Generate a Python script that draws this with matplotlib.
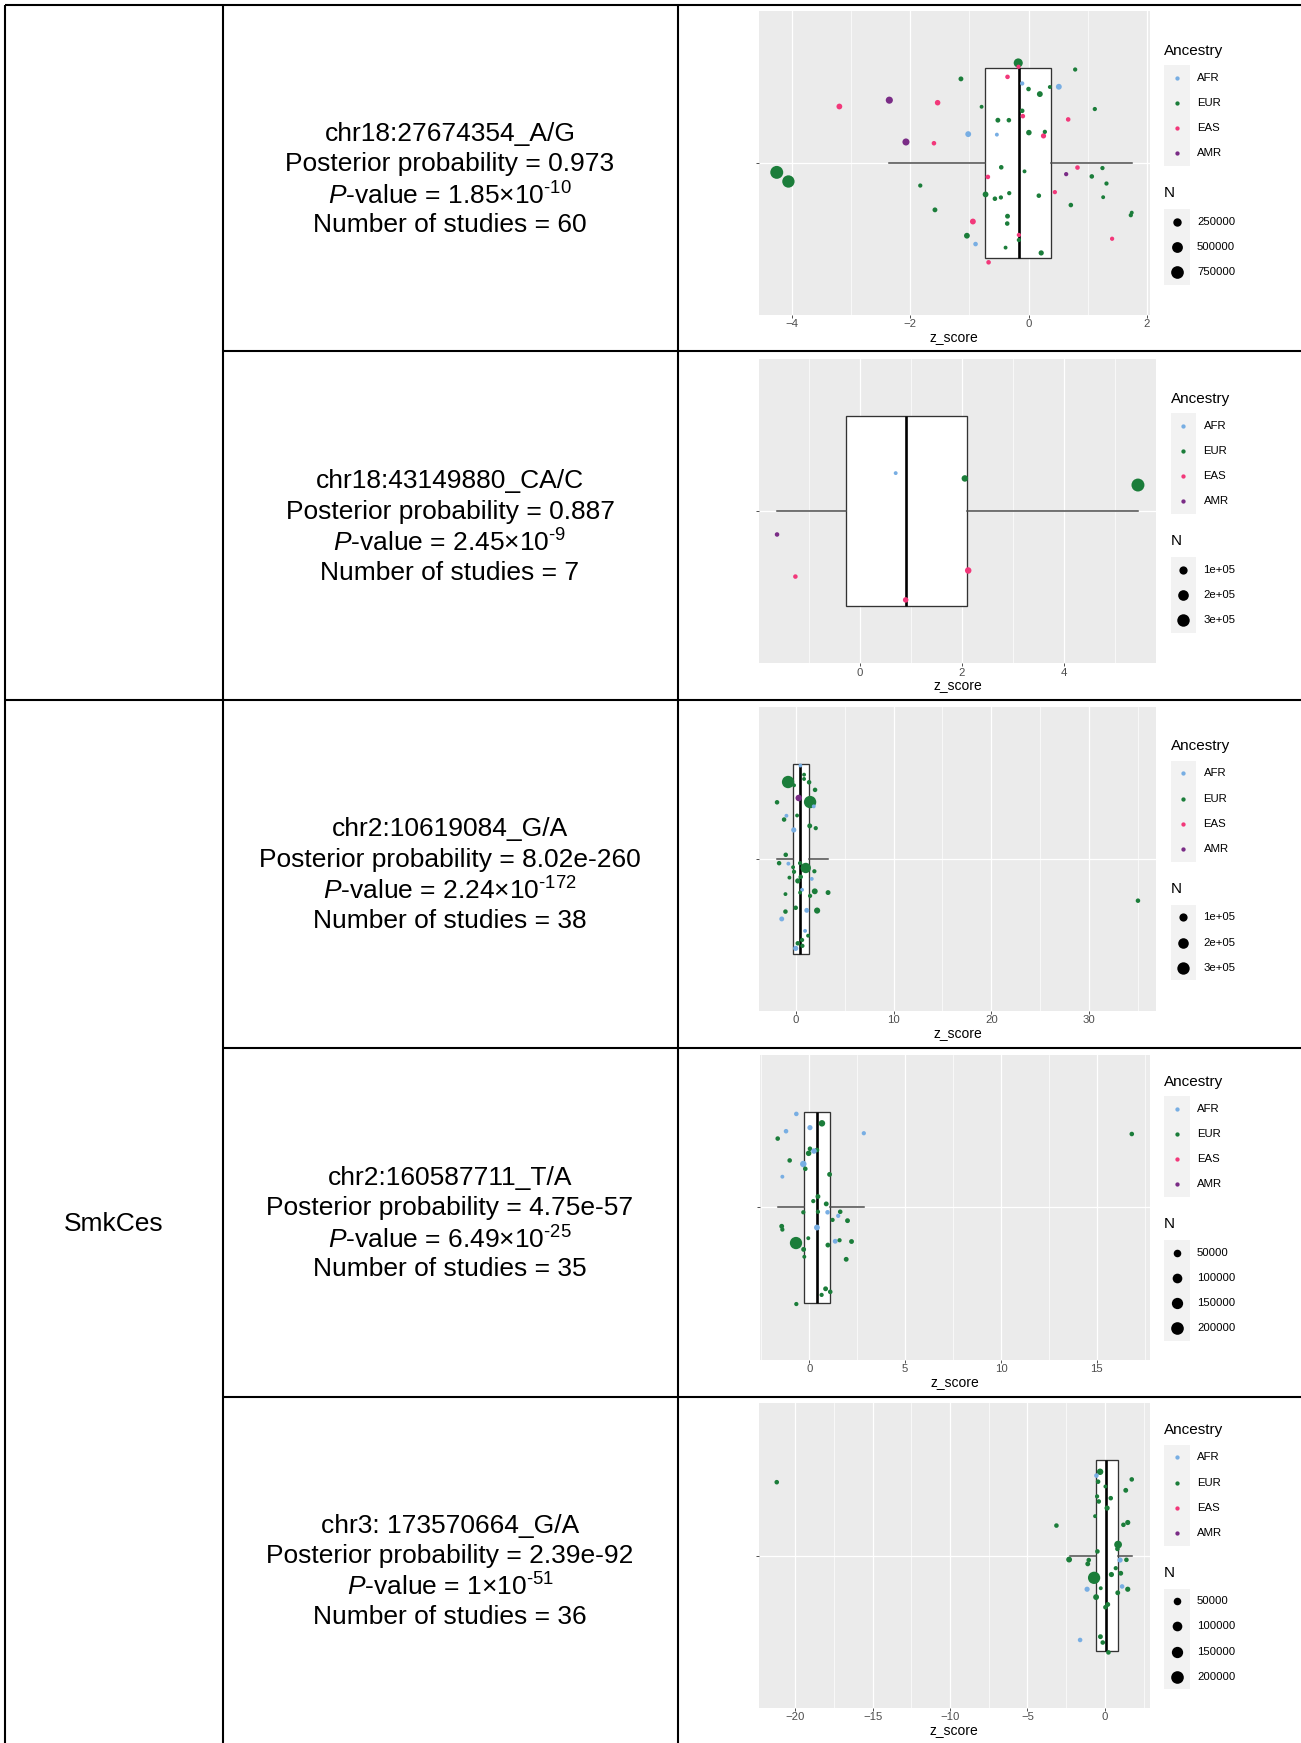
import numpy as np
import matplotlib
matplotlib.use('Agg')
import matplotlib.pyplot as plt
from matplotlib.patches import Rectangle

# ---------------- DATA ----------------
trait_label = 'SmkCes'
variants = ['chr18:27674354_A/G', 'chr18:43149880_CA/C', 'chr2:10619084_G/A',
            'chr2:160587711_T/A', 'chr3: 173570664_G/A']
post_probs = ['0.973', '0.887', '8.02e-260', '4.75e-57', '2.39e-92']
pval_mant = ['1.85', '2.45', '2.24', '6.49', '1']
pval_exp = ['-10', '-9', '-172', '-25', '-51']
n_studies = [60, 7, 38, 35, 36]

ancestry_levels = ['AFR', 'EUR', 'EAS', 'AMR']
ancestry_colors = {'AFR': '#78AEE3', 'EUR': '#1B7D3A', 'EAS': '#F2387A', 'AMR': '#7A2C86'}

# panel 1
p1_z = [-4.254, -4.057, -3.196, -2.352, -2.071, -1.829, -1.598, -1.536, -1.581, -1.142,
        -1.019, -0.940, -1.041, -0.895, -0.793, -0.726, -0.687, -0.675, -0.568, -0.535,
        -0.518, -0.461, -0.467, -0.355, -0.332, -0.326, -0.355, -0.360, -0.388, -0.174,
        -0.169, -0.107, -0.107, -0.096, -0.068, -0.163, -0.163, 0.000, 0.006, 0.174,
        0.191, 0.214, 0.253, 0.276, 0.360, 0.445, 0.512, 0.636, 0.670, 0.715,
        0.788, 0.827, 1.069, 1.120, 1.249, 1.261, 1.317, 1.412, 1.728, 1.744]
p1_y = [0.963, 0.927, 1.223, 1.248, 1.083, 0.911, 1.078, 1.238, 0.815, 1.332,
        1.114, 0.769, 0.713, 0.680, 1.222, 0.876, 0.945, 0.608, 0.859, 1.112,
        1.169, 0.983, 0.864, 1.340, 1.169, 0.881, 0.790, 0.761, 0.666, 1.395,
        1.380, 1.314, 1.206, 1.185, 0.967, 0.716, 0.696, 1.292, 1.120, 0.871,
        1.272, 0.645, 1.107, 1.123, 1.300, 0.885, 1.301, 0.956, 1.172, 0.834,
        1.369, 0.982, 0.947, 1.213, 0.980, 0.865, 0.919, 0.701, 0.794, 0.804]
p1_anc = ['EUR', 'EUR', 'EAS', 'AMR', 'AMR', 'EUR', 'EAS', 'EAS', 'EUR', 'EUR',
          'AFR', 'EAS', 'EUR', 'AFR', 'EUR', 'EUR', 'EAS', 'EAS', 'EUR', 'AFR',
          'EUR', 'EUR', 'EUR', 'EAS', 'EUR', 'EUR', 'EUR', 'EUR', 'EUR', 'EUR',
          'EAS', 'AFR', 'EUR', 'EAS', 'EUR', 'EAS', 'EUR', 'EUR', 'EUR', 'EUR',
          'EUR', 'EUR', 'EAS', 'EUR', 'EUR', 'EAS', 'AFR', 'AMR', 'EAS', 'EUR',
          'EUR', 'EAS', 'EUR', 'EUR', 'EUR', 'EUR', 'EUR', 'EAS', 'EUR', 'EUR']
p1_n = [790000, 700000, 80000, 155000, 150000, 27000, 35000, 68000, 44000, 44000,
        83000, 83000, 80000, 35000, 20000, 80000, 35000, 35000, 35000, 20000,
        44000, 35000, 27000, 35000, 35000, 27000, 44000, 35000, 20000, 310000,
        27000, 27000, 35000, 35000, 20000, 27000, 27000, 35000, 68000, 35000,
        83000, 56000, 56000, 27000, 20000, 27000, 83000, 27000, 35000, 35000,
        27000, 35000, 35000, 27000, 27000, 20000, 27000, 27000, 27000, 20000]

# panel 2
p2_z = [0.702, 2.059, 5.456, -1.626, -1.266, 2.125, 0.898]
p2_y = [1.150, 1.129, 1.103, 0.908, 0.742, 0.766, 0.650]
p2_anc = ['AFR', 'EUR', 'EUR', 'AMR', 'EAS', 'EAS', 'EAS']
p2_n = [9000, 49000, 332000, 15000, 15000, 49000, 29000]

# panel 3
p3_z = [0.46, 0.836, 0.836, -0.80, -0.19, 1.35, 1.96, 0.29, 1.45, 1.825,
        -1.93, -0.97, -1.21, 0.12, -0.22, 1.415, 2.03, -1.04, -1.72, -0.77,
        0.427, -0.29, 1.006, 1.89, -0.19, 0.495, -0.665, 0.19, 1.62, 0.63,
        0.427, 1.93, 3.29, -1.07, 1.45, -0.02, 1.11, 2.17, -1.07, -1.45,
        0.94, 1.245, 0.63, 0.19, 0.665, -0.02, 35.0]
p3_y = [1.368, 1.332, 1.315, 1.303, 1.290, 1.302, 1.272, 1.240, 1.224, 1.207,
        1.223, 1.170, 1.155, 1.171, 1.114, 1.130, 1.121, 1.016, 0.983, 0.981,
        0.983, 0.967, 0.964, 0.951, 0.949, 0.929, 0.926, 0.913, 0.921, 0.878,
        0.867, 0.872, 0.867, 0.861, 0.854, 0.807, 0.797, 0.796, 0.792, 0.763,
        0.716, 0.697, 0.680, 0.667, 0.657, 0.647, 0.835]
p3_anc = ['AFR', 'EUR', 'EUR', 'EUR', 'EUR', 'EUR', 'EUR', 'AMR', 'EUR', 'AFR',
          'EUR', 'AFR', 'EUR', 'EUR', 'AFR', 'EUR', 'EUR', 'EUR', 'EUR', 'AFR',
          'EUR', 'EUR', 'EUR', 'EUR', 'EUR', 'EUR', 'EUR', 'EUR', 'AFR', 'AFR',
          'EUR', 'EUR', 'EUR', 'EUR', 'EUR', 'EUR', 'AFR', 'EUR', 'EUR', 'AFR',
          'AFR', 'EUR', 'EUR', 'EUR', 'EUR', 'AFR', 'EUR']
p3_n = [9000, 9000, 9000, 300000, 9000, 15000, 15000, 50000, 300000, 9000,
        15000, 9000, 15000, 9000, 24000, 20000, 12000, 15000, 15000, 9000,
        12000, 9000, 190000, 12000, 12000, 15000, 9000, 24000, 9000, 9000,
        9000, 36000, 20000, 9000, 12000, 15000, 20000, 42000, 15000, 20000,
        9000, 9000, 12000, 15000, 12000, 24000, 15000]

# panel 4
p4_z = [-0.671, 0.664, 0.04, -1.208, -1.642, 2.848, 0.04, 0.404, 0.248, -0.03,
        -1.018, -0.307, -0.203, 1.063, -1.399, 0.456, 0.213, 0.889, -0.307, 0.456,
        0.958, 1.617, 1.513, 1.218, 1.998, -1.434, -1.399, 0.404, -0.688, -0.047,
        -0.29, -0.255, 0.976, 1.357, 1.583, 2.207, 1.929, 0.855, 1.097, 0.647,
        -0.671, 16.82]
p4_y = [1.367, 1.330, 1.313, 1.299, 1.270, 1.291, 1.230, 1.225, 1.221, 1.212,
        1.184, 1.170, 1.151, 1.129, 1.120, 1.042, 1.024, 1.013, 0.980, 0.982,
        0.980, 0.982, 0.966, 0.950, 0.947, 0.925, 0.912, 0.920, 0.859, 0.878,
        0.834, 0.805, 0.851, 0.866, 0.870, 0.865, 0.795, 0.679, 0.667, 0.655,
        0.619, 1.288]
p4_anc = ['AFR', 'EUR', 'AFR', 'AFR', 'EUR', 'AFR', 'EUR', 'EUR', 'AFR', 'EUR',
          'EUR', 'AFR', 'EUR', 'EUR', 'AFR', 'EUR', 'EUR', 'EUR', 'EUR', 'EUR',
          'AFR', 'EUR', 'AFR', 'EUR', 'EUR', 'EUR', 'EUR', 'AFR', 'EUR', 'EUR',
          'EUR', 'EUR', 'EUR', 'AFR', 'EUR', 'EUR', 'EUR', 'EUR', 'EUR', 'EUR',
          'EUR', 'EUR']
p4_n = [9700, 31000, 15000, 9700, 9700, 7500, 9700, 9700, 18600, 18600,
        9700, 31000, 9700, 12000, 5800, 12000, 7500, 12000, 7500, 7500,
        9700, 9700, 7500, 7500, 12000, 12000, 7500, 22500, 187000, 5800,
        12000, 5800, 12000, 12000, 7500, 12000, 12000, 12000, 9700, 7500,
        7500, 9700]

# panel 5
p5_z = [-0.306, -0.543, 1.740, -0.435, 0.039, 1.352, -0.50, 0.383, -0.392, 0.147,
        -0.629, -3.127, 1.481, 1.202, 0.857, 0.814, -0.478, -2.308, -1.038, -1.103,
        0.986, 1.395, 0.706, -0.693, 0.426, 1.029, -0.263, -1.145, 1.116, 1.481,
        0.835, -0.564, 0.189, 0.039, -0.284, -1.598, -0.134, 0.233, -21.2]
p5_y = [1.330, 1.315, 1.300, 1.291, 1.272, 1.257, 1.233, 1.226, 1.213, 1.187,
        1.155, 1.118, 1.130, 1.121, 1.043, 1.026, 1.016, 0.984, 0.982, 0.967,
        0.982, 0.983, 0.950, 0.912, 0.925, 0.930, 0.871, 0.867, 0.878, 0.867,
        0.853, 0.836, 0.807, 0.796, 0.680, 0.667, 0.657, 0.618, 1.289]
p5_anc = ['EUR', 'AFR', 'EUR', 'EUR', 'EUR', 'EUR', 'EUR', 'EUR', 'EUR', 'EUR',
          'EUR', 'EUR', 'EUR', 'EUR', 'EUR', 'EUR', 'EUR', 'EUR', 'EUR', 'EUR',
          'AFR', 'EUR', 'EUR', 'EUR', 'EUR', 'EUR', 'EUR', 'AFR', 'AFR', 'EUR',
          'EUR', 'EUR', 'EUR', 'EUR', 'EUR', 'AFR', 'EUR', 'EUR', 'EUR']
p5_n = [31000, 9700, 9700, 9700, 5800, 12000, 7500, 9700, 9700, 15000,
        5800, 9700, 15000, 9700, 54000, 9700, 9700, 22500, 9700, 12000,
        15000, 9700, 7500, 187000, 15000, 12000, 5800, 15000, 9700, 15000,
        12000, 22500, 12000, 9700, 12000, 9700, 9700, 9700, 9700]

# box statistics (q1, median, q3, lower whisker, upper whisker)
box_q1 = [-0.737, -0.282, -0.29, -0.29, -0.564]
box_med = [-0.169, 0.898, 0.46, 0.386, 0.06]
box_q3 = [0.388, 2.092, 1.35, 1.097, 0.835]
box_wlo = [-2.351, -1.626, -1.922, -1.624, -2.265]
box_whi = [1.744, 5.456, 3.30, 2.848, 1.74]

# axis ticks
major_ticks = [[-4, -2, 0, 2], [0, 2, 4], [0, 10, 20, 30], [0, 5, 10, 15], [-20, -15, -10, -5, 0]]
# size scale limits and legend breaks
n_limits = [(10000, 800000), (5000, 335000), (5000, 340000), (3000, 215000), (3000, 215000)]
size_breaks = [[250000, 500000, 750000], [100000, 200000, 300000], [100000, 200000, 300000],
               [50000, 100000, 150000, 200000], [50000, 100000, 150000, 200000]]
size_break_labels = [['250000', '500000', '750000'], ['1e+05', '2e+05', '3e+05'],
                     ['1e+05', '2e+05', '3e+05'], ['50000', '100000', '150000', '200000'],
                     ['50000', '100000', '150000', '200000']]

panels_z = [p1_z, p2_z, p3_z, p4_z, p5_z]
panels_y = [p1_y, p2_y, p3_y, p4_y, p5_y]
panels_anc = [p1_anc, p2_anc, p3_anc, p4_anc, p5_anc]
panels_n = [p1_n, p2_n, p3_n, p4_n, p5_n]

# ---------------- LAYOUT ----------------
W, H = 1301, 1743
DPI = 100
plt.rcParams['font.family'] = ['Liberation Sans', 'DejaVu Sans']
plt.rcParams['mathtext.fontset'] = 'custom'
plt.rcParams['mathtext.rm'] = 'Liberation Sans'
plt.rcParams['mathtext.it'] = 'Liberation Sans:italic'
plt.rcParams['mathtext.bf'] = 'Liberation Sans:bold'

fig = plt.figure(figsize=(W / DPI, H / DPI), dpi=DPI)
fig.patch.set_facecolor('white')

panel_rects = [(759, 11, 1149.5, 315), (759, 359, 1156, 663.3), (759, 706.7, 1156, 1011),
               (760, 1054.7, 1149.5, 1359.7), (759, 1403.3, 1149.5, 1707.7)]
row_bounds = [(4.5, 351), (351, 699.5), (699.5, 1047.5), (1047.5, 1396.5), (1396.5, 1743)]

PX_PER_SIZE = 2.05
PX_ADD = 0.7


def size_pts2(n, lo, hi):
    n = np.asarray(n, dtype=float)
    frac = np.clip((n - lo) / (hi - lo), 0, 1)
    size = 1 + 5 * np.sqrt(frac)
    d_pt = (size * PX_PER_SIZE + PX_ADD) * 72.0 / DPI
    return d_pt ** 2


def fmt_tick(v):
    s = '%g' % v
    return s.replace('-', '\u2212')


for i in range(5):
    x0, y0, x1, y1 = panel_rects[i]
    ax = fig.add_axes([x0 / W, 1 - y1 / H, (x1 - x0) / W, (y1 - y0) / H])
    ax.set_facecolor('#EBEBEB')
    for sp in ax.spines.values():
        sp.set_visible(False)
    z = np.array(panels_z[i])
    yv = np.array(panels_y[i])
    lo_d = min(z.min(), box_wlo[i])
    hi_d = max(z.max(), box_whi[i])
    rng = hi_d - lo_d
    xl = (lo_d - 0.05 * rng, hi_d + 0.05 * rng)
    mt = major_ticks[i]
    step = mt[1] - mt[0]
    minors = [m + step / 2 for m in [mt[0] - step] + mt]
    minors = [m for m in minors if xl[0] <= m <= xl[1]]

    stats = [dict(med=box_med[i], q1=box_q1[i], q3=box_q3[i],
                  whislo=box_wlo[i], whishi=box_whi[i], fliers=[])]
    kw = dict(positions=[1], widths=[0.75], showfliers=False, showcaps=False,
              patch_artist=True,
              boxprops=dict(facecolor='white', edgecolor='#333333', linewidth=0.95),
              whiskerprops=dict(color='#4d4d4d', linewidth=1.1),
              medianprops=dict(color='black', linewidth=1.9), zorder=2)
    try:
        ax.bxp(stats, orientation='horizontal', **kw)
    except TypeError:
        ax.bxp(stats, vert=False, **kw)

    ax.set_xlim(*xl)
    ax.set_ylim(0.4, 1.6)
    ax.set_xticks(mt)
    ax.set_xticklabels([fmt_tick(v) for v in mt])
    ax.set_xticks(minors, minor=True)
    ax.set_yticks([1])
    ax.set_yticklabels([''])
    ax.grid(which='major', color='white', linewidth=0.9)
    ax.grid(which='minor', axis='x', color='white', linewidth=0.5)
    ax.set_axisbelow(True)
    ax.tick_params(axis='both', which='major', length=2.2, width=0.6, color='#333333',
                   labelsize=8.2, labelcolor='#4D4D4D', pad=1.0)
    ax.tick_params(axis='x', which='minor', length=0)

    lo, hi = n_limits[i]
    cols = [ancestry_colors[a] for a in panels_anc[i]]
    ax.scatter(z, yv, s=size_pts2(panels_n[i], lo, hi), c=cols, linewidths=0, zorder=3)

# overlay for table, text and legends
ov = fig.add_axes([0, 0, 1, 1])
ov.set_xlim(0, W)
ov.set_ylim(H, 0)
ov.axis('off')
ov.patch.set_alpha(0)

LW = 1.5
xl_, xc1, xc2, xr = 4.5, 222.5, 677.5, W
segs = [([xl_, xr], [4.5, 4.5]), ([xl_, xl_], [4.5, H]), ([xc1, xc1], [4.5, H]),
        ([xc2, xc2], [4.5, H]), ([xc1, xr], [351, 351]), ([xl_, xr], [699.5, 699.5]),
        ([xc1, xr], [1047.5, 1047.5]), ([xc1, xr], [1396.5, 1396.5])]
for sx, sy in segs:
    ov.plot(sx, sy, color='black', lw=LW, solid_capstyle='butt')

FS = 19
xtext = (xc1 + xc2) / 2
offs = [-45.75, -15.25, 15.25, 45.75]
for i in range(5):
    c = (row_bounds[i][0] + row_bounds[i][1]) / 2 + 8.6
    lines = [variants[i],
             'Posterior probability = ' + post_probs[i],
             r'$\mathit{P}$-value = ' + pval_mant[i] + '\u00d710' + r'$^{\text{' + pval_exp[i] + '}}$',
             'Number of studies = %d' % n_studies[i]]
    for k, (ln, o) in enumerate(zip(lines, offs)):
        extra = 2.5 if k == 2 else 0
        ov.text(xtext, c + o + extra, ln, fontsize=FS, ha='center', va='baseline')

ov.text((xl_ + xc1) / 2, (699.5 + 1743) / 2 + 9.5, trait_label, fontsize=FS,
        ha='center', va='baseline')

# axis titles and legends
for i in range(5):
    x0, y0, x1, y1 = panel_rects[i]
    ov.text((x0 + x1) / 2, y1 + 23, 'z_score', fontsize=10, ha='center', va='center')
    nk = len(size_breaks[i])
    top = y0 + (4 - nk) * 12.6
    lx = x1 + 14.5
    kw_, kh = 25.5, 25.2
    ov.text(lx, top + 27, 'Ancestry', fontsize=11, ha='left', va='center')
    kt = top + 54 - kh / 2
    ov.add_patch(Rectangle((lx, kt), kw_, kh * 4, facecolor='#F2F2F2', edgecolor='none'))
    for k, a in enumerate(ancestry_levels):
        cy = top + 54 + k * kh
        ov.scatter([lx + kw_ / 2], [cy], s=(4.3 * 0.72) ** 2, color=ancestry_colors[a],
                   linewidths=0, zorder=5)
        ov.text(lx + 33, cy, a, fontsize=8.2, ha='left', va='center')
    ny = top + 54 + 3 * kh + kh / 2 + 27.5
    ov.text(lx, ny, 'N', fontsize=11, ha='left', va='center')
    st = ny + 15.7
    ov.add_patch(Rectangle((lx, st), kw_, kh * nk, facecolor='#F2F2F2', edgecolor='none'))
    lo, hi = n_limits[i]
    for k, (b, lab) in enumerate(zip(size_breaks[i], size_break_labels[i])):
        cy = st + kh / 2 + k * kh
        ov.scatter([lx + kw_ / 2], [cy], s=size_pts2([b], lo, hi), color='black',
                   linewidths=0, zorder=5)
        ov.text(lx + 33, cy, lab, fontsize=8.2, ha='left', va='center')

fig.savefig('out.png', dpi=DPI)
